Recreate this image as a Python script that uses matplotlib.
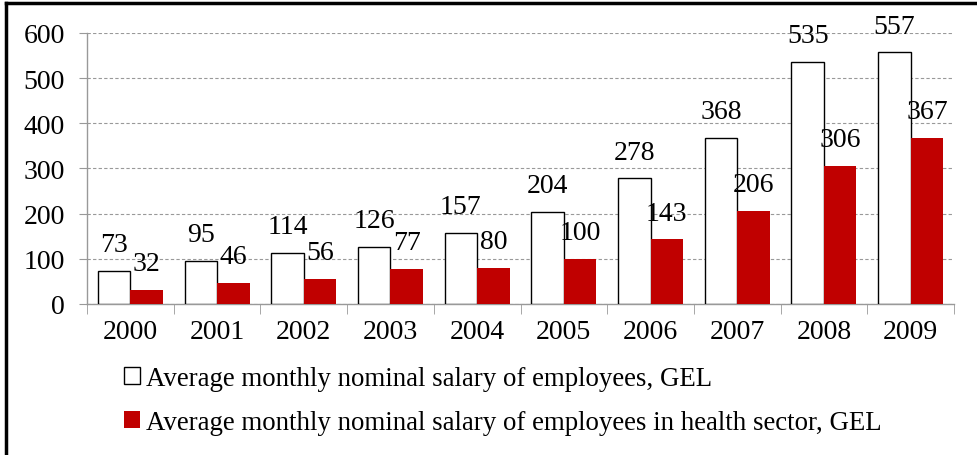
import matplotlib
matplotlib.use("Agg")
import matplotlib.pyplot as plt
from matplotlib.lines import Line2D
import numpy as np

matplotlib.rcParams.update({
    'font.family': 'serif',
    'font.serif': ['Liberation Serif', 'DejaVu Serif'],
})

years = ['2000', '2001', '2002', '2003', '2004', '2005', '2006', '2007', '2008', '2009']
salary_all = [73, 95, 114, 126, 157, 204, 278, 368, 535, 557]
salary_health = [32, 46, 56, 77, 80, 100, 143, 206, 306, 367]
label_all = 'Average monthly nominal salary of employees, GEL'
label_health = 'Average monthly nominal salary of employees in health sector, GEL'

W, H = 978, 456
fig = plt.figure(figsize=(W / 100, H / 100), dpi=100)
ax = fig.add_axes([87 / W, 1 - 305 / H, (954 - 87) / W, (305 - 34) / H])

x = np.arange(len(years))
w = 0.375
b1 = ax.bar(x - w / 2, salary_all, w, color='white', edgecolor='black', lw=1.0,
            label=label_all, zorder=3)
b2 = ax.bar(x + w / 2, salary_health, w, color='#C00000', edgecolor='none',
            label=label_health, zorder=3)

for xi, v in zip(x, salary_all):
    ax.annotate(str(v), (xi - w / 2, v), xytext=(0, 19), textcoords='offset points',
                ha='center', va='center', fontsize=20)
for xi, v in zip(x, salary_health):
    ax.annotate(str(v), (xi + w / 2, v), xytext=(0, 19), textcoords='offset points',
                ha='center', va='center', fontsize=20)

ax.set_xlim(-0.5, len(years) - 0.5)
ax.set_ylim(0, 600)
ax.set_yticks(range(0, 601, 100))
ax.tick_params(axis='y', labelsize=20, length=6, color='#999999', pad=10)
ax.set_xticks(x)
ax.set_xticklabels(years)
ax.tick_params(axis='x', which='major', length=0, labelsize=20, pad=11)
ax.set_xticks(np.arange(-0.5, len(years)), minor=True)
ax.tick_params(axis='x', which='minor', length=7, color='#999999')

ax.grid(axis='y', color='#999999', ls=(0, (3, 2)), lw=0.8, zorder=0)
for s in ['top', 'right']:
    ax.spines[s].set_visible(False)
for s in ['left', 'bottom']:
    ax.spines[s].set_color('#999999')
    ax.spines[s].set_linewidth(1.0)

fig.legend(handles=[b1, b2], loc='upper left', bbox_to_anchor=(124 / W, 1 - 367 / H),
           frameon=False, fontsize=19.4, handlelength=0.6, handleheight=0.6,
           handletextpad=0.2, labelspacing=0.72, borderaxespad=0, borderpad=0)

# frame around figure (top and left)
fig.add_artist(Line2D([6 / W, 6 / W], [0, 1 - 4 / H], color='black', lw=2.5,
                      transform=fig.transFigure))
fig.add_artist(Line2D([6 / W, 1], [1 - 4 / H, 1 - 4 / H], color='black', lw=2.5,
                      transform=fig.transFigure))

fig.savefig('out.png', dpi=100)
